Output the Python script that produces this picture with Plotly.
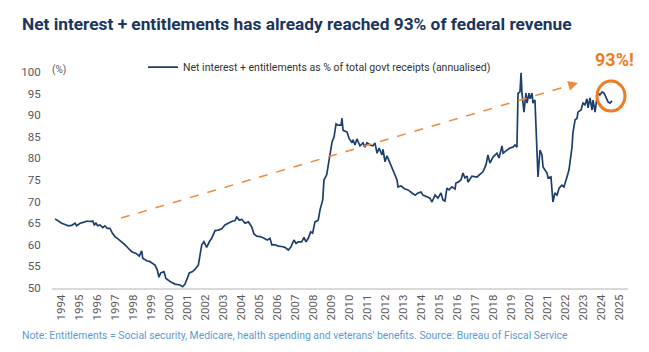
import plotly.graph_objects as go

# ---- data (fractional year, % of receipts) ----
years = [
    1994.17, 1994.35, 1994.54, 1994.72, 1994.91, 1995.09, 1995.28, 1995.37, 1995.56, 1995.74,
    1995.96, 1996.11, 1996.26, 1996.35, 1996.44, 1996.54, 1996.67, 1996.82, 1996.94, 1997.07,
    1997.22, 1997.35, 1997.50, 1997.68, 1997.87, 1998.06, 1998.24, 1998.43, 1998.67, 1998.85,
    1998.98, 1999.04, 1999.26, 1999.44, 1999.72, 1999.85, 1999.94, 2000.04, 2000.22, 2000.33,
    2000.56, 2000.83, 2001.11, 2001.26, 2001.39, 2001.48, 2001.63, 2001.81, 2001.94, 2002.13,
    2002.22, 2002.32, 2002.44, 2002.59, 2002.74, 2002.87, 2003.06, 2003.24, 2003.43, 2003.61,
    2003.79, 2003.98, 2004.17, 2004.26, 2004.41, 2004.54, 2004.72, 2004.91, 2005.09, 2005.22,
    2005.37, 2005.56, 2005.78, 2005.96, 2006.11, 2006.21, 2006.39, 2006.57, 2006.76, 2006.94,
    2007.13, 2007.26, 2007.44, 2007.56, 2007.68, 2007.87, 2008.00, 2008.11, 2008.24, 2008.37,
    2008.48, 2008.61, 2008.79, 2008.89, 2009.04, 2009.11, 2009.26, 2009.41, 2009.56, 2009.67,
    2009.78, 2009.89, 2010.06, 2010.11, 2010.17, 2010.39, 2010.50, 2010.67, 2010.72, 2010.83,
    2010.94, 2011.11, 2011.28, 2011.39, 2011.50, 2011.67, 2011.83, 2011.94, 2012.06, 2012.17,
    2012.33, 2012.39, 2012.50, 2012.61, 2012.78, 2012.89, 2013.06, 2013.17, 2013.22, 2013.39,
    2013.61, 2013.78, 2014.00, 2014.17, 2014.33, 2014.50, 2014.61, 2014.83, 2015.00, 2015.11,
    2015.28, 2015.44, 2015.61, 2015.72, 2015.83, 2015.94, 2016.06, 2016.22, 2016.39, 2016.44,
    2016.56, 2016.72, 2016.83, 2016.94, 2017.06, 2017.11, 2017.33, 2017.61, 2017.83, 2017.94,
    2018.11, 2018.22, 2018.33, 2018.50, 2018.72, 2018.83, 2019.00, 2019.06, 2019.28, 2019.44,
    2019.61, 2019.72, 2019.83, 2019.89, 2020.00, 2020.06, 2020.11, 2020.17, 2020.22, 2020.33,
    2020.39, 2020.50, 2020.56, 2020.67, 2020.72, 2020.83, 2020.94, 2021.00, 2021.11, 2021.22,
    2021.28, 2021.39, 2021.50, 2021.56, 2021.72, 2021.83, 2021.94, 2022.06, 2022.17, 2022.33,
    2022.44, 2022.61, 2022.72, 2022.89, 2022.94, 2023.06, 2023.17, 2023.22, 2023.39, 2023.50,
    2023.61, 2023.72, 2023.78, 2023.89, 2024.00, 2024.06, 2024.17, 2024.28, 2024.33, 2024.44,
    2024.56, 2024.67, 2024.78, 2024.89, 2025.00, 2025.11,
]
share = [
    66.0, 65.5, 65.0, 64.7, 64.4, 64.5, 65.0, 64.4, 65.0, 65.2,
    65.5, 65.4, 65.5, 64.6, 65.0, 64.4, 64.6, 64.0, 64.4, 63.8,
    63.8, 62.7, 61.9, 61.3, 60.7, 60.0, 59.2, 58.4, 58.0, 57.4,
    58.6, 56.9, 56.3, 56.1, 55.3, 54.2, 52.5, 53.5, 53.8, 52.2,
    51.5, 50.9, 50.7, 50.3, 50.9, 51.9, 53.5, 53.8, 54.3, 55.3,
    57.3, 60.0, 60.7, 59.4, 60.7, 61.5, 63.3, 63.4, 63.7, 64.6,
    65.0, 65.4, 65.6, 66.4, 65.7, 65.9, 65.0, 65.3, 64.2, 62.5,
    62.0, 61.9, 61.5, 61.1, 61.5, 60.0, 60.0, 59.7, 59.6, 59.4,
    58.8, 59.4, 61.1, 60.3, 60.7, 60.7, 61.7, 60.7, 61.5, 63.0,
    62.7, 65.3, 65.7, 68.1, 70.4, 75.0, 76.2, 79.6, 83.8, 85.0,
    88.0, 87.7, 87.7, 89.3, 86.5, 86.1, 84.7, 83.6, 84.3, 83.1,
    84.5, 82.9, 83.6, 82.6, 83.6, 83.1, 82.9, 83.6, 81.2, 82.4,
    80.8, 82.1, 79.2, 80.6, 78.9, 78.0, 76.2, 75.0, 73.4, 73.6,
    72.9, 72.7, 72.0, 71.5, 72.0, 72.2, 71.5, 71.1, 70.8, 69.9,
    71.5, 70.8, 72.0, 70.4, 70.1, 73.1, 72.7, 73.4, 72.9, 74.3,
    74.5, 75.0, 76.6, 75.5, 75.9, 74.5, 75.9, 75.7, 76.6, 76.9,
    78.5, 80.8, 78.9, 80.3, 81.2, 80.1, 82.9, 81.2, 81.9, 82.4,
    82.6, 83.1, 82.6, 95.1, 95.4, 99.8, 95.1, 93.1, 90.7, 95.1,
    92.8, 95.1, 93.8, 95.1, 92.8, 93.5, 81.9, 75.7, 81.9, 80.8,
    78.0, 77.3, 76.6, 75.5, 75.7, 69.9, 72.0, 71.5, 73.1, 73.8,
    73.4, 75.7, 77.3, 82.6, 85.9, 88.9, 89.3, 90.7, 91.2, 92.8,
    92.4, 93.8, 91.7, 94.0, 91.2, 93.5, 90.7, 94.2, 95.1, 94.7,
    95.4, 95.1, 94.0, 93.1, 92.8, 93.3,
]
tick_years = list(range(1994, 2026))
y_ticks = [50, 55, 60, 65, 70, 75, 80, 85, 90, 95, 100]

# trend arrow and highlight (data units)
arrow_start = (1997.83, 66.2)
arrow_end = (2023.22, 97.45)
arrow_back = (2022.69, 96.8)
circle_box = (2024.28, 90.97, 2025.83, 97.9)

NAVY = "#1d3f6e"
ORANGE = "#f07c22"
FONT = "Roboto, sans-serif"

fig = go.Figure()
fig.add_trace(go.Scatter(
    x=years, y=share, mode="lines",
    name="Net interest + entitlements as % of total govt receipts (annualised)",
    line=dict(color=NAVY, width=1.7),
))

fig.update_layout(
    width=649, height=352,
    margin=dict(l=52, r=21, t=72, b=64),
    paper_bgcolor="white", plot_bgcolor="white",
    title=dict(
        text="Net interest + entitlements has already reached 93% of federal revenue",
        x=22 / 649, xanchor="left", xref="container",
        y=1 - 24 / 352, yanchor="middle", yref="container",
        font=dict(family=FONT, size=17.3, color="#1b365d", weight="bold"),
    ),
    showlegend=True,
    legend=dict(
        orientation="h", x=0.158, xanchor="left", y=1.023, yanchor="middle",
        font=dict(family=FONT, size=10.5, color="#333333"),
        bgcolor="rgba(0,0,0,0)", itemwidth=30,
    ),
    xaxis=dict(
        range=[1994, 2026],
        tickvals=[y + 0.5 for y in tick_years],
        ticktext=[str(y) for y in tick_years],
        tickangle=-90,
        tickfont=dict(family=FONT, size=11.5, color="#595959"),
        showgrid=False, zeroline=False,
        showline=True, linecolor="#d9d9d9", linewidth=2,
        ticks="", fixedrange=True,
    ),
    yaxis=dict(
        range=[50, 100],
        tickvals=y_ticks,
        tickfont=dict(family=FONT, size=11.5, color="#595959"),
        showgrid=False, zeroline=False, showline=False,
        ticks="outside", ticklen=8, tickcolor="rgba(0,0,0,0)",
    ),
)

# dashed trend line + arrow head
fig.add_shape(type="line", xref="x", yref="y",
              x0=arrow_start[0], y0=arrow_start[1], x1=arrow_back[0], y1=arrow_back[1],
              line=dict(color="#f08a3c", width=1.5, dash="dash"))
fig.add_annotation(x=arrow_end[0], y=arrow_end[1], ax=arrow_back[0], ay=arrow_back[1],
                   xref="x", yref="y", axref="x", ayref="y", text="",
                   showarrow=True, arrowhead=2, arrowsize=1.3, arrowwidth=1.5,
                   arrowcolor="#f08a3c")
# circle highlight
fig.add_shape(type="circle", xref="x", yref="y",
              x0=circle_box[0], y0=circle_box[1], x1=circle_box[2], y1=circle_box[3],
              line=dict(color=ORANGE, width=3))

fig.add_annotation(text="93%!", x=(614 - 52) / 576, y=(288 - 60) / 216,
                   xref="paper", yref="paper", showarrow=False,
                   xanchor="center", yanchor="middle",
                   font=dict(family=FONT, size=18, color=ORANGE, weight="bold"))
fig.add_annotation(text="(%)", x=(50 - 52) / 576, y=(288 - 70) / 216,
                   xref="paper", yref="paper", showarrow=False,
                   xanchor="left", yanchor="middle",
                   font=dict(family=FONT, size=10, color="#595959"))
fig.add_annotation(
    text="Note: Entitlements = Social security, Medicare, health spending and veterans' benefits. Source: Bureau of Fiscal Service",
    x=(20 - 52) / 576, y=(288 - 335) / 216, xref="paper", yref="paper",
    showarrow=False, xanchor="left", yanchor="middle",
    font=dict(family=FONT, size=10.4, color="#5b9bd5"))

fig.write_html("out.html")
